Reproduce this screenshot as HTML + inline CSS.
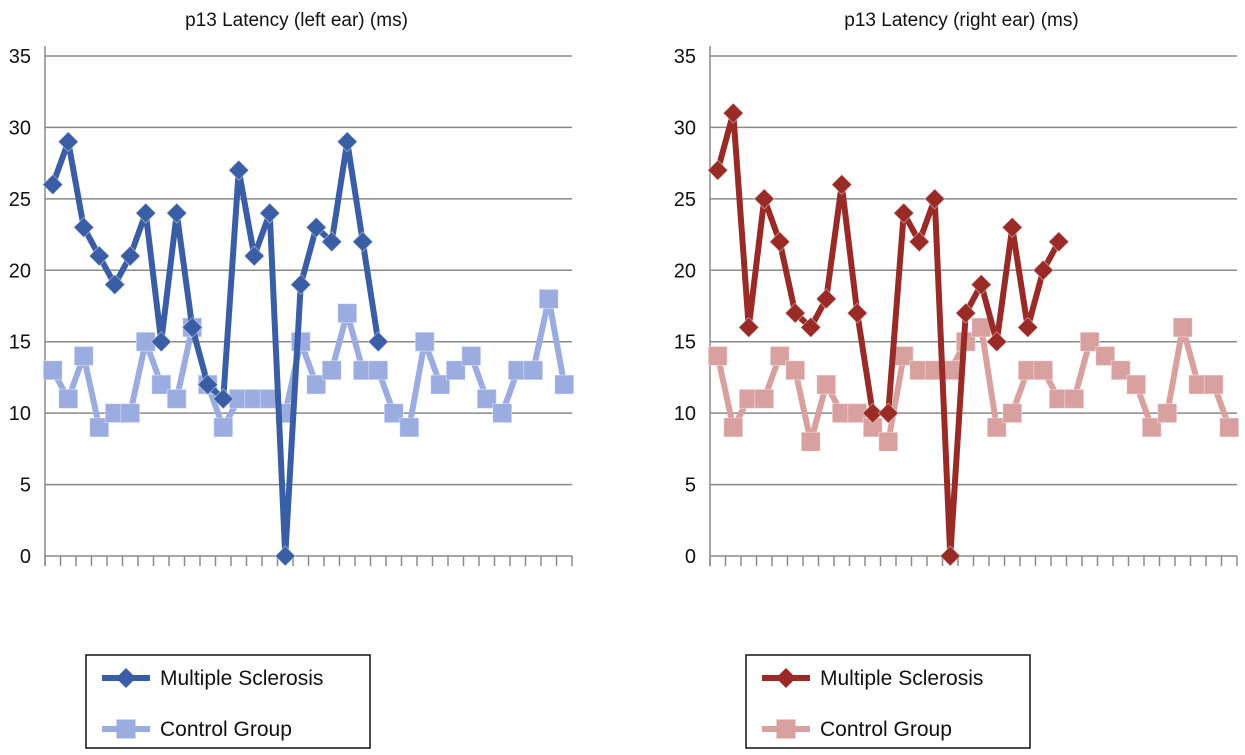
<!DOCTYPE html>
<html><head><meta charset="utf-8"><style>
body{margin:0;background:#fff;font-family:"Liberation Sans",sans-serif;}
svg text{font-family:"Liberation Sans",sans-serif;}
</style></head><body>
<svg id="c" width="1245" height="750"></svg>
<script>
const yTicks=[0,5,10,15,20,25,30,35];
const leftMS=[26,29,23,21,19,21,24,15,24,16,12,11,27,21,24,0,19,23,22,29,22,15];
const leftCtrl=[13,11,14,9,10,10,15,12,11,16,12,9,11,11,11,10,15,12,13,17,13,13,10,9,15,12,13,14,11,10,13,13,18,12];
const rightMS=[27,31,16,25,22,17,16,18,26,17,10,10,24,22,25,0,17,19,15,23,16,20,22];
const rightCtrl=[14,9,11,11,14,13,8,12,10,10,9,8,14,13,13,13,15,16,9,10,13,13,11,11,15,14,13,12,9,10,16,12,12,9];
const nCats=34;
const NS='http://www.w3.org/2000/svg';
const svg=document.getElementById('c');
function mk(tag,attrs,parent){const e=document.createElementNS(NS,tag);for(const k in attrs)e.setAttribute(k,attrs[k]);(parent||svg).appendChild(e);return e;}
function chart(x0,x1,title,ms,ctrl,msCol,ctrlCol,side){
  const y0=556,y1=56;
  const ys=v=>y0-(v-0)/35*(y0-y1);
  const step=(x1-x0)/nCats;
  const xs=i=>x0+step*(i+0.5);
  const g=mk('g',{});
  
  
  const t=mk('text',{x:(x0+x1)/2-12,y:26,'text-anchor':'middle','font-size':19,fill:'#111'},g);
  t.textContent=title;
  
  
  yTicks.forEach(v=>{
    const l=mk('line',{x1:x0,x2:x1,y1:ys(v),y2:ys(v),stroke:'#8a8a8a','stroke-width':1.5},g);
    
    
    const tx=mk('text',{x:x0-14,y:ys(v)+7,'text-anchor':'end','font-size':20,fill:'#111'},g);
    tx.textContent=v;
    
    
  });
  const ax=mk('line',{x1:x0,x2:x0,y1:y1-10,y2:y0+10,stroke:'#8a8a8a','stroke-width':1.5},g);
  
  
  for(let i=0;i<=nCats;i++){
    const tk=mk('line',{x1:x0+step*i,x2:x0+step*i,y1:y0,y2:y0+10,stroke:'#8a8a8a','stroke-width':1.5},g);
    
    
  }
  function series(vals,col,shape,name,w){
    const p=mk('polyline',{points:vals.map((v,i)=>xs(i)+','+ys(v)).join(' '),fill:'none',stroke:col,'stroke-width':w,'stroke-linejoin':'round'},g);
    
    
    vals.forEach((v,i)=>{
      let m;
      if(shape==='sq') m=mk('rect',{x:xs(i)-9.5,y:ys(v)-9.5,width:19,height:19,fill:col,stroke:'#fff','stroke-opacity':0.4},g);
      else m=mk('polygon',{points:`${xs(i)},${ys(v)-10} ${xs(i)+10},${ys(v)} ${xs(i)},${ys(v)+10} ${xs(i)-10},${ys(v)}`,fill:col,stroke:'#fff','stroke-opacity':0.4},g);
      
      
    });
  }
  series(ctrl,ctrlCol,'sq',side+'-control',6);
  series(ms,msCol,'di',side+'-ms',6);
}
chart(45,572,'p13 Latency (left ear) (ms)',leftMS,leftCtrl,'#3a5ea5','#9aace0','left');
chart(710,1237,'p13 Latency (right ear) (ms)',rightMS,rightCtrl,'#9a2a26','#d9a0a0','right');
function legend(x,msCol,ctrlCol,side){
  const g=mk('g',{});
  
  
  mk('rect',{x:x,y:655,width:284,height:93,fill:'#fff',stroke:'#111','stroke-width':1.5},g);
  [[msCol,'Multiple Sclerosis',678,'di'],[ctrlCol,'Control Group',729,'sq']].forEach(([c,l,y,s])=>{
    const e=mk('g',{},g);
    
    
    mk('line',{x1:x+16,x2:x+64,y1:y,y2:y,stroke:c,'stroke-width':6},e);
    const cx=x+40;
    if(s==='sq') mk('rect',{x:cx-9.5,y:y-9.5,width:19,height:19,fill:c},e);
    else mk('polygon',{points:`${cx},${y-10} ${cx+10},${y} ${cx},${y+10} ${cx-10},${y}`,fill:c},e);
    const t=mk('text',{x:x+74,y:y+7,'font-size':21,fill:'#111'},e);
    t.textContent=l;
  });
}
legend(86,'#3a5ea5','#9aace0','left');
legend(746,'#9a2a26','#d9a0a0','right');
</script>
</body></html>
